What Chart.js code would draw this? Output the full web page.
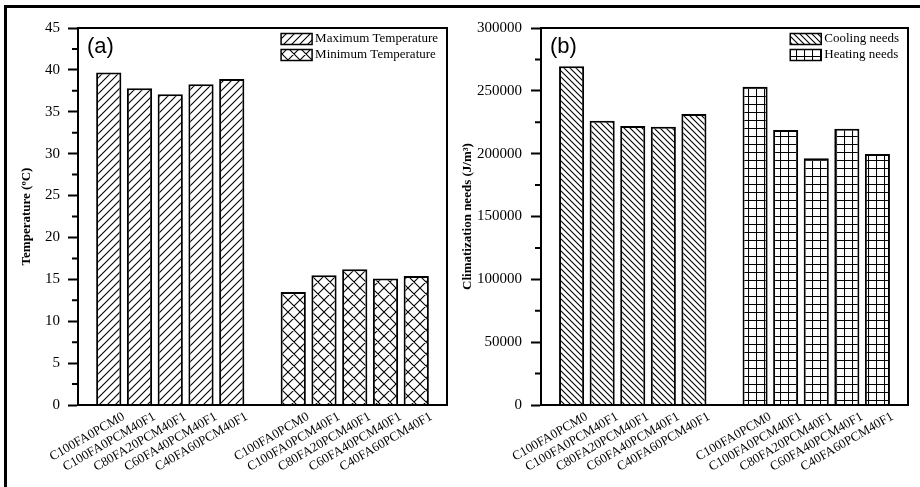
<!DOCTYPE html>
<html>
<head>
<meta charset="utf-8">
<script src="https://cdn.jsdelivr.net/npm/chart.js@4.4.0/dist/chart.umd.min.js"></script>
<style>
  html, body { margin: 0; padding: 0; background: #fff; }
  #wrap { position: relative; width: 920px; height: 487px; overflow: hidden; }
  #frame { position: absolute; left: 4px; top: 5px; width: 940px; height: 500px; border-top: 3px solid #000; border-left: 3px solid #000; }
  .box { position: absolute; top: 0; width: 460px; height: 487px; }
</style>
</head>
<body>
<div id="wrap">
  <div id="frame"></div>
  <div class="box" style="left:0"><canvas id="chartA"></canvas></div>
  <div class="box" style="left:460px"><canvas id="chartB"></canvas></div>
</div>
<script>
var categories = ['C100FA0PCM0', 'C100FA0PCM40F1', 'C80FA20PCM40F1', 'C60FA40PCM40F1', 'C40FA60PCM40F1'];
var maxTemp = [39.7, 37.8, 37.1, 38.3, 38.9];
var minTemp = [13.5, 15.5, 16.2, 15.1, 15.4];
var coolingNeeds = [269500, 226200, 222000, 221400, 231500];
var heatingNeeds = [253300, 218800, 196300, 219800, 199800];
var tempTicks = [0, 5, 10, 15, 20, 25, 30, 35, 40, 45];
var needsTicks = [0, 50000, 100000, 150000, 200000, 250000, 300000];

var serif = 'Liberation Serif';

// hatch patterns
function hatch(size, draw) {
  var c = document.createElement('canvas');
  c.width = size; c.height = size;
  var g = c.getContext('2d');
  g.fillStyle = '#fff';
  g.fillRect(0, 0, size, size);
  g.strokeStyle = '#000';
  g.lineWidth = 1.1;
  g.beginPath();
  draw(g, size);
  g.stroke();
  return g.createPattern(c, 'repeat');
}
function slash(g, s) {
  g.moveTo(-1, 1); g.lineTo(1, -1);
  g.moveTo(0, s); g.lineTo(s, 0);
  g.moveTo(s - 1, s + 1); g.lineTo(s + 1, s - 1);
}
function backslash(g, s) {
  g.moveTo(-1, s - 1); g.lineTo(1, s + 1);
  g.moveTo(0, 0); g.lineTo(s, s);
  g.moveTo(s - 1, -1); g.lineTo(s + 1, 1);
}
function cross(g, s) { slash(g, s); backslash(g, s); }
function grid(g, s) {
  g.moveTo(0.5, 0); g.lineTo(0.5, s);
  g.moveTo(0, 0.5); g.lineTo(s, 0.5);
}

// 13 slots: empty, group 1, empty, group 2, empty
var xLabels = [''].concat(categories, [''], categories, ['']);
function leftGroup(v) { return [null].concat(v, [null, null, null, null, null, null, null]); }
function rightGroup(v) { return [null, null, null, null, null, null, null].concat(v, [null]); }

var panelPlugin = {
  id: 'panel',
  afterDraw: function (chart, args, opts) {
    var a = chart.chartArea, ctx = chart.ctx, y = chart.scales.y;
    ctx.save();
    ctx.strokeStyle = '#000';
    ctx.lineWidth = 2;
    ctx.strokeRect(a.left, a.top, a.right - a.left, a.bottom - a.top);

    // minor ticks
    var t = y.ticks;
    ctx.beginPath();
    for (var i = 0; i < t.length - 1; i++) {
      var py = y.getPixelForValue((t[i].value + t[i + 1].value) / 2);
      ctx.moveTo(a.left - 6, py);
      ctx.lineTo(a.left, py);
    }
    ctx.stroke();

    // (a) / (b)
    ctx.fillStyle = '#000';
    ctx.textAlign = 'left';
    ctx.textBaseline = 'middle';
    ctx.font = '22px "Liberation Sans"';
    ctx.fillText(opts.tag, a.left + 9, a.top + 19);

    // legend
    ctx.font = '13px "' + serif + '"';
    var ds = chart.data.datasets;
    var w = 0;
    ds.forEach(function (d) { w = Math.max(w, ctx.measureText(d.label).width); });
    var tx = a.right - 9 - w;
    ds.forEach(function (d, i) {
      var cy = a.top + 11 + i * 16;
      ctx.fillStyle = d.backgroundColor;
      ctx.fillRect(tx - 34, cy - 5.5, 31, 11);
      ctx.lineWidth = 1.5;
      ctx.strokeRect(tx - 34, cy - 5.5, 31, 11);
      ctx.fillStyle = '#000';
      ctx.fillText(d.label, tx, cy);
    });
    ctx.restore();
  }
};

function makeChart(id, tag, s1, s2, ticks, title, yWidth, tickPad, titlePad, rightPad) {
  var ctx = document.getElementById(id).getContext('2d');
  return new Chart(ctx, {
    type: 'bar',
    data: {
      labels: xLabels,
      datasets: [
        { label: s1.label, data: leftGroup(s1.data), backgroundColor: s1.pattern,
          borderColor: '#000', borderWidth: 2, grouped: false, barPercentage: 0.82, categoryPercentage: 1 },
        { label: s2.label, data: rightGroup(s2.data), backgroundColor: s2.pattern,
          borderColor: '#000', borderWidth: 2, grouped: false, barPercentage: 0.82, categoryPercentage: 1 }
      ]
    },
    options: {
      responsive: true,
      maintainAspectRatio: false,
      animation: false,
      layout: { padding: { top: 28, right: rightPad, bottom: 0, left: 0 } },
      plugins: {
        legend: { display: false },
        tooltip: { enabled: false },
        panel: { tag: tag }
      },
      scales: {
        x: {
          offset: false,
          grid: { display: false, drawTicks: false },
          border: { display: true, color: '#000', width: 2 },
          ticks: { autoSkip: false, maxRotation: 30, minRotation: 30, color: '#000',
                   font: { family: serif, size: 13 }, padding: 4, labelOffset: 15 },
          afterFit: function (s) { s.height = 82; }
        },
        y: {
          min: ticks[0],
          max: ticks[ticks.length - 1],
          ticks: { stepSize: ticks[1] - ticks[0], padding: tickPad, color: '#000',
                   font: { family: serif, size: 15 },
                   callback: function (v) { return String(v); } },
          grid: { drawOnChartArea: false, drawTicks: true, tickLength: 10, tickWidth: 2,
                  tickColor: '#000', color: '#000' },
          border: { display: true, color: '#000', width: 2 },
          title: { display: true, text: title, color: '#000',
                   font: { family: serif, size: 13, weight: 'bold' },
                   padding: { top: titlePad, bottom: 0 } },
          afterFit: function (s) { s.width = yWidth; }
        }
      }
    },
    plugins: [panelPlugin]
  });
}

makeChart('chartA', '(a)',
  { label: 'Maximum Temperature', data: maxTemp, pattern: hatch(8, slash) },
  { label: 'Minimum Temperature', data: minTemp, pattern: hatch(12, cross) },
  tempTicks, 'Temperature (\u00baC)', 78, 8, 19, 13);

makeChart('chartB', '(b)',
  { label: 'Cooling needs', data: coolingNeeds, pattern: hatch(6, backslash) },
  { label: 'Heating needs', data: heatingNeeds, pattern: hatch(8, grid) },
  needsTicks, 'Climatization needs (J/m\u00b3)', 81, 9, 0, 12);
</script>
</body>
</html>
